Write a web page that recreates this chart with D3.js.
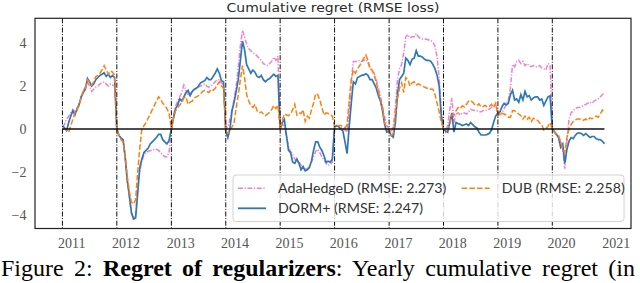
<!DOCTYPE html>
<html>
<head>
<meta charset="utf-8">
<script src="https://cdn.jsdelivr.net/npm/d3@7"></script>
<style>
  body { margin: 0; background: #fff; }
  svg { display: block; }
</style>
</head>
<body>
<div id="chart"></div>
<script>
// dimensions de la page
const width = 640;
const height = 283;

// années : chaque année le regret cumulé repart de zéro
const years = [2011, 2012, 2013, 2014, 2015, 2016, 2017, 2018, 2019, 2020];
const stepsPerYear = 26;   // un point toutes les deux semaines
const tickYears = [2011, 2012, 2013, 2014, 2015, 2016, 2017, 2018, 2019, 2020, 2021];
const yTicks = [-4, -2, 0, 2, 4];

// AdaHedgeD (RMSE: 2.273)
const adahedge = [
  0.1,0.2,0.45,0.6,0.75,0.9,0.8,0.85,1.1,1.5,1.8,1.95,2.2,2.0,1.75,1.85,1.95,2.0,2.1,2.15,2.2,2.1,2.0,2.1,2.05,2.0,
  0,-0.3,-0.42,-0.5,-1.3,-2.4,-3.15,-3.95,-4.15,-4.05,-2.6,-2.0,-1.5,-1.2,-1.1,-1.05,-1.0,-1.0,-0.95,-0.95,-1.0,-1.1,-1.2,-1.3,-1.3,-1.1,
  0,0.6,1.05,1.3,1.5,1.7,2.05,1.8,1.55,1.65,1.75,1.85,1.9,1.95,2.0,2.05,2.1,2.0,1.95,2.0,2.1,2.2,2.3,2.3,2.15,2.05,
  0,0.1,0.45,0.9,1.4,2.0,2.9,3.9,4.6,4.3,3.95,3.75,3.65,3.55,3.5,3.4,3.3,3.2,3.05,3.0,2.95,3.05,3.15,3.35,3.2,3.4,
  0,0.25,0.1,-0.3,-0.8,-1.05,-1.2,-1.4,-1.55,-1.5,-1.7,-1.85,-1.87,-1.85,-1.75,-1.55,-1.3,-1.05,-0.95,-1.1,-1.3,-1.45,-1.6,-1.7,-1.65,-1.55,
  0.05,0.15,0.15,0.1,0.0,-0.05,-0.15,0.8,2.2,3.15,3.15,3.15,3.2,3.15,3.2,3.25,3.1,2.85,2.7,2.6,2.3,1.9,1.5,1.05,0.55,0.15,
  0,-0.15,0.1,1.0,2.3,2.8,3.0,3.55,4.3,4.4,4.25,4.3,4.3,4.45,4.3,4.22,4.2,4.2,4.18,4.15,4.12,4.05,3.85,3.35,2.4,0.9,
  0,-0.15,0.2,0.9,1.45,0.3,0.7,0.75,0.65,0.75,0.75,0.7,0.8,0.92,0.88,0.86,0.85,0.8,0.8,0.86,0.86,0.88,0.93,1.0,1.08,1.15,
  0.75,0.65,0.75,0.95,1.15,1.35,1.9,3.0,2.9,3.15,3.2,3.05,3.15,2.95,3.05,2.95,2.9,2.95,2.9,2.9,2.95,2.85,2.8,2.75,3.05,3.0,
  0,-0.15,-0.3,-0.4,-0.6,-0.95,-1.85,-0.6,0.45,0.75,0.85,0.95,1.0,1.0,1.05,1.1,1.15,1.2,1.25,1.2,1.3,1.35,1.4,1.5,1.6,1.7
];

// DORM+ (RMSE: 2.247)
const dorm = [
  0.15,0.05,-0.08,0.3,0.6,0.85,0.65,0.95,1.15,1.5,1.7,1.85,2.35,2.2,2.0,2.1,2.3,2.4,2.5,2.55,2.62,2.45,2.55,2.4,2.5,2.4,
  0,-0.3,-0.42,-0.5,-1.3,-2.4,-3.1,-3.9,-4.2,-4.15,-3.0,-1.8,-1.4,-1.1,-1.0,-0.9,-0.7,-0.6,-0.5,-0.4,-0.25,-0.25,-0.5,-0.6,-0.7,-0.55,
  0,0.5,0.95,1.1,1.4,1.3,1.5,1.7,1.8,1.55,1.75,1.85,1.9,2.0,2.15,2.2,2.25,2.4,2.3,2.3,2.45,2.6,2.8,2.6,2.25,2.2,
  -0.1,-0.4,0.0,0.85,1.25,1.75,2.3,3.2,4.1,3.7,3.0,2.8,2.6,2.75,2.65,2.45,2.4,2.5,2.3,2.2,2.3,2.35,2.45,2.55,2.45,2.5,
  0,0.3,0.45,-0.3,-1.0,-1.1,-1.55,-1.6,-1.4,-1.6,-1.9,-1.75,-1.95,-1.9,-1.8,-1.5,-1.0,-0.6,-0.6,-0.85,-1.0,-1.25,-1.55,-1.5,-1.55,-1.4,
  0.1,0.15,0.1,0.0,-0.1,-0.6,-1.15,0.1,1.2,2.2,2.1,2.4,2.45,2.5,2.52,2.57,2.5,2.3,2.3,2.1,1.9,1.55,1.3,0.85,0.2,-0.15,
  -0.1,-0.3,-0.38,0.3,1.6,2.3,2.45,2.6,3.3,3.2,3.0,3.25,3.3,3.65,3.4,3.4,3.35,3.25,3.2,3.2,3.15,3.0,2.8,2.5,2.0,0.6,
  0,-0.1,-0.15,0.3,0.75,-0.15,0.3,0.25,0.22,0.16,0.2,0.23,0.16,0.3,0.2,0.1,0.05,-0.15,-0.28,-0.28,-0.28,-0.25,-0.2,-0.05,0.3,0.6,
  0.75,0.8,1.05,1.2,1.12,1.2,1.6,1.8,1.35,1.4,1.25,1.6,1.35,1.75,1.5,1.55,1.35,1.45,1.5,1.5,1.35,1.4,1.1,1.3,1.5,1.55,
  0,-0.12,-0.25,-0.4,-0.85,-0.7,-1.6,-0.95,-0.58,-0.4,-0.45,-0.3,-0.2,-0.18,-0.22,-0.3,-0.22,-0.3,-0.4,-0.35,-0.35,-0.45,-0.5,-0.5,-0.58,-0.68
];

// DUB (RMSE: 2.258)
const dub = [
  0,0,-0.05,-0.15,0.15,0.45,0.75,0.9,1.1,1.5,1.75,1.9,2.3,2.2,2.05,2.2,2.45,2.5,2.6,2.75,2.95,2.75,2.55,2.7,2.65,2.5,
  0,-0.3,-0.5,-0.6,-1.3,-2.2,-2.9,-3.4,-3.5,-3.3,-2.0,-0.9,0.0,0.15,0.3,0.5,0.7,0.9,1.1,1.3,1.5,1.4,1.2,1.1,0.95,0.75,
  0,0.5,0.85,1.0,1.1,1.25,1.45,1.5,1.15,1.25,1.3,1.45,1.5,1.55,1.65,1.75,1.8,1.75,1.7,1.85,1.8,1.9,2.05,2.2,2.0,1.9,
  -0.1,-0.2,-0.05,0.1,0.3,1.0,1.6,2.3,2.95,2.4,1.6,1.3,1.1,1.0,1.15,0.85,0.75,0.8,0.7,0.62,0.7,0.78,0.9,1.1,0.95,1.1,
  0,0.4,0.7,0.65,0.62,0.7,0.9,1.15,0.65,0.75,0.72,0.9,0.35,0.6,0.5,0.9,1.2,1.65,1.6,1.35,1.0,0.65,0.75,0.72,0.65,0.6,
  0.1,0.15,0.16,0.16,0.12,0.05,0.2,1.3,2.3,2.75,2.6,2.8,2.95,3.1,3.3,3.45,3.2,2.8,2.75,2.5,2.15,1.75,1.4,0.9,0.3,0.0,
  -0.1,-0.3,-0.2,0.7,1.4,1.9,2.15,1.7,2.4,2.3,2.0,2.15,2.2,2.05,2.1,2.05,2.0,1.95,1.9,1.92,1.85,1.85,1.6,1.2,0.8,0.3,
  0,0,0,0.2,0.65,0.65,0.85,1.0,0.95,1.08,1.02,1.15,1.3,1.33,1.25,1.12,1.1,1.17,1.02,1.05,1.1,1.02,1.05,1.15,1.0,1.2,
  0.6,0.78,0.72,0.7,0.65,0.55,0.55,0.85,0.85,0.78,0.7,0.62,0.47,0.6,0.45,0.55,0.35,0.5,0.45,0.4,0.28,0.2,-0.05,0.02,0.12,0.3,
  0,-0.15,-0.25,-0.3,-0.6,-0.9,-1.1,-0.4,0.0,0.2,0.35,0.42,0.47,0.47,0.45,0.4,0.47,0.4,0.52,0.48,0.52,0.6,0.55,0.7,0.88,0.75
];

const seriesNames = ["AdaHedgeD (RMSE: 2.273)", "DORM+ (RMSE: 2.247)", "DUB (RMSE: 2.258)"];
const seriesColors = ["#f47fca", "#2f78b6", "#ff7f0e"];
const seriesDash = ["5,1.6,1.2,1.6", null, "5.5,2.2"];
const seriesValues = [adahedge, dorm, dub];

// dates : un point toutes les 2 semaines depuis le 1er janvier de chaque année
const dates = years.flatMap(yr =>
  d3.range(stepsPerYear).map(k => d3.timeDay.offset(new Date(yr, 0, 1), 14 * k)));

// --- cadre du graphique ---
const margin = { top: 18.3, right: 9, bottom: 54.5, left: 35 };
const plotW = width - margin.left - margin.right;
const plotH = height - margin.top - margin.bottom;

const x = d3.scaleTime()
  .domain([new Date(2010, 6, 1), new Date(2021, 5, 12)])
  .range([0, plotW]);

const y = d3.scaleLinear()
  .domain([-4.64, 5.16])
  .range([plotH, 0]);

const svg = d3.select("#chart").append("svg")
  .attr("width", width)
  .attr("height", height);

const g = svg.append("g")
  .attr("transform", `translate(${margin.left},${margin.top})`);

// titre
svg.append("text")
  .attr("x", margin.left + plotW / 2)
  .attr("y", 12)
  .attr("text-anchor", "middle")
  .attr("font-family", "'DejaVu Sans', sans-serif")
  .attr("font-size", "13px")
  .attr("textLength", 213)
  .attr("lengthAdjust", "spacingAndGlyphs")
  .attr("fill", "#2a2a2a")
  .text("Cumulative regret (RMSE loss)");

// courbes (ordre matplotlib : AdaHedgeD, DORM+, DUB)
const line = d3.line()
  .x((d, i) => x(dates[i]))
  .y(d => y(d));

seriesValues.forEach((vals, i) => {
  g.append("path")
    .datum(vals)
    .attr("fill", "none")
    .attr("stroke", seriesColors[i])
    .attr("stroke-width", i === 1 ? 1.7 : 1.5)
    .attr("stroke-dasharray", seriesDash[i])
    .attr("d", line);
});

// ligne zéro
g.append("line")
  .attr("x1", x(dates[0]))
  .attr("x2", x(dates[dates.length - 1]))
  .attr("y1", y(0))
  .attr("y2", y(0))
  .attr("stroke", "#111")
  .attr("stroke-width", 1.6);

// séparations annuelles en tirets-points
g.selectAll(".year-line")
  .data(years)
  .join("line")
  .attr("class", "year-line")
  .attr("x1", d => x(new Date(d, 0, 1)))
  .attr("x2", d => x(new Date(d, 0, 1)))
  .attr("y1", 0)
  .attr("y2", plotH)
  .attr("stroke", "#111")
  .attr("stroke-width", 1)
  .attr("stroke-dasharray", "5,1.6,1,1.6");

// étiquettes des axes
g.selectAll(".xlab")
  .data(tickYears)
  .join("text")
  .attr("class", "xlab")
  .attr("x", d => x(new Date(d, 0, 1)) + 9.3)
  .attr("y", plotH + 19.5)
  .attr("text-anchor", "middle")
  .attr("font-family", "'Liberation Serif', serif")
  .attr("font-size", "14px")
  .attr("fill", "#555")
  .text(d => d);

g.selectAll(".ylab")
  .data(yTicks)
  .join("text")
  .attr("class", "ylab")
  .attr("x", -8.5)
  .attr("y", d => y(d))
  .attr("dy", "0.35em")
  .attr("text-anchor", "end")
  .attr("font-family", "'Liberation Serif', serif")
  .attr("font-size", "14px")
  .attr("fill", "#555")
  .text(d => d < 0 ? "\u2212" + Math.abs(d) : d);

// légende (2 colonnes)
const legend = g.append("g")
  .attr("transform", `translate(${233 - margin.left},${175 - margin.top})`);

legend.append("rect")
  .attr("width", 391)
  .attr("height", 46.5)
  .attr("rx", 3)
  .attr("fill", "#fff")
  .attr("fill-opacity", 0.8)
  .attr("stroke", "#d2d2d2")
  .attr("stroke-width", 1);

const legendPos = [[5, 13.3], [5, 33.3], [228.7, 13.3]];
seriesNames.forEach((name, i) => {
  const [lx, ly] = legendPos[i];
  legend.append("line")
    .attr("x1", lx).attr("x2", lx + 28)
    .attr("y1", ly).attr("y2", ly)
    .attr("stroke", seriesColors[i])
    .attr("stroke-width", i === 1 ? 1.8 : 1.6)
    .attr("stroke-dasharray", seriesDash[i]);
  legend.append("text")
    .attr("x", lx + 40)
    .attr("y", ly)
    .attr("dy", "0.36em")
    .attr("font-family", "Lato, 'DejaVu Sans', sans-serif")
    .attr("font-size", "14.2px")
    .attr("fill", "#333")
    .text(name);
});

// cadre
g.append("rect")
  .attr("width", plotW)
  .attr("height", plotH)
  .attr("fill", "none")
  .attr("stroke", "#222")
  .attr("stroke-width", 1.2);

// légende de la figure (texte du papier), justifiée sur la largeur
const caption = svg.append("text")
  .attr("x", 1)
  .attr("y", 276)
  .attr("font-family", "'Liberation Serif', serif")
  .attr("font-size", "24px")
  .attr("fill", "#000");
caption.append("tspan").text("Figure 2: ");
caption.append("tspan").attr("font-weight", "bold").text("Regret of regularizers");
caption.append("tspan").text(": Yearly cumulative regret (in");

// ajuste l'espacement des mots pour finir vers x = 636
const nSpaces = 8;
let ws = 0;
for (let it = 0; it < 3; it++) {
  const w = caption.node().getBBox().width;
  ws += (635 - 1 - w) / nSpaces;
  caption.attr("word-spacing", ws);
}
</script>
</body>
</html>
